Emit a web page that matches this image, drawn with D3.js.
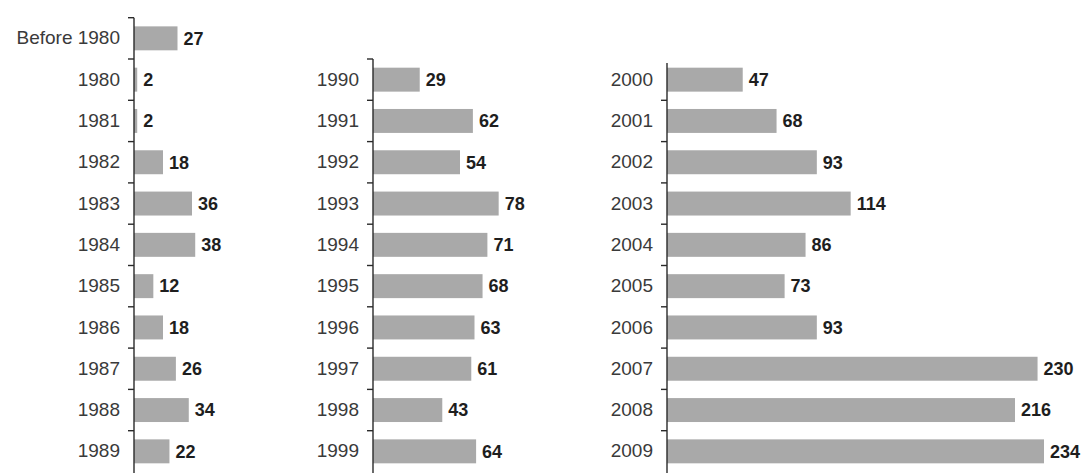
<!DOCTYPE html>
<html>
<head>
<meta charset="utf-8">
<script src="https://cdn.jsdelivr.net/npm/d3@7"></script>
<style>
  body { margin: 0; background: #fff; }
  svg { display: block; }
  .lbl { font-family: "Liberation Sans", Arial, sans-serif; font-size: 19px; fill: #3a3a3a; }
  .val { font-family: "Liberation Sans", Arial, sans-serif; font-size: 18px; font-weight: bold; fill: #1e1e1e; }
</style>
</head>
<body>
<svg id="chart" width="1089" height="473"></svg>
<script>
const years1 = ["Before 1980", "1980", "1981", "1982", "1983", "1984", "1985", "1986", "1987", "1988", "1989"];
const counts1 = [27, 2, 2, 18, 36, 38, 12, 18, 26, 34, 22];

const years2 = ["1990", "1991", "1992", "1993", "1994", "1995", "1996", "1997", "1998", "1999"];
const counts2 = [29, 62, 54, 78, 71, 68, 63, 61, 43, 64];

const years3 = ["2000", "2001", "2002", "2003", "2004", "2005", "2006", "2007", "2008", "2009"];
const counts3 = [47, 68, 93, 114, 86, 73, 93, 230, 216, 234];

const svg = d3.select("#chart");

// one shared value scale for all three columns
const x = d3.scaleLinear().domain([0, 234]).range([0, 377]);

const bottom = 472;
const step = 41.3;

function column(labels, values, left, topTick) {
  const top = bottom - step * labels.length;
  const y = d3.scaleBand()
    .domain(labels)
    .range([top, bottom])
    .paddingInner(0.42)
    .paddingOuter(0.21);

  const g = svg.append("g").attr("transform", `translate(${left},0)`);
  const data = labels.map((d, i) => ({ label: d, value: values[i] }));

  g.selectAll("rect")
    .data(data)
    .enter()
    .append("rect")
    .attr("x", 0)
    .attr("y", d => y(d.label))
    .attr("width", d => x(d.value))
    .attr("height", y.bandwidth())
    .attr("fill", "#a9a9a9");

  g.selectAll("text.val")
    .data(data)
    .enter()
    .append("text")
    .attr("class", "val")
    .attr("x", d => x(d.value) + 6)
    .attr("y", d => y(d.label) + y.bandwidth() / 2)
    .attr("dy", "0.35em")
    .text(d => d.value);

  // category labels, no tick marks at centres
  const axis = g.append("g")
    .call(d3.axisLeft(y).tickSize(0).tickPadding(14));
  axis.select(".domain").remove();
  axis.selectAll("text").attr("class", "lbl").attr("font-family", null).attr("font-size", null);

  // axis line with ticks between the bars
  const gap = (y.step() - y.bandwidth()) / 2;
  let bounds = labels.map(d => y(d) - gap);
  if (!topTick) bounds = bounds.slice(1);
  g.append("line")
    .attr("x1", 0).attr("x2", 0)
    .attr("y1", topTick ? top : top + 4)
    .attr("y2", 473)
    .attr("stroke", "#2a2a2a")
    .attr("stroke-width", 1.4);
  g.selectAll("line.tick")
    .data(bounds)
    .enter()
    .append("line")
    .attr("class", "tick")
    .attr("x1", -6).attr("x2", 0)
    .attr("y1", d => d).attr("y2", d => d)
    .attr("stroke", "#2a2a2a")
    .attr("stroke-width", 1.4);
}

column(years1, counts1, 134, true);
column(years2, counts2, 373, true);
column(years3, counts3, 667, false);
</script>
</body>
</html>
